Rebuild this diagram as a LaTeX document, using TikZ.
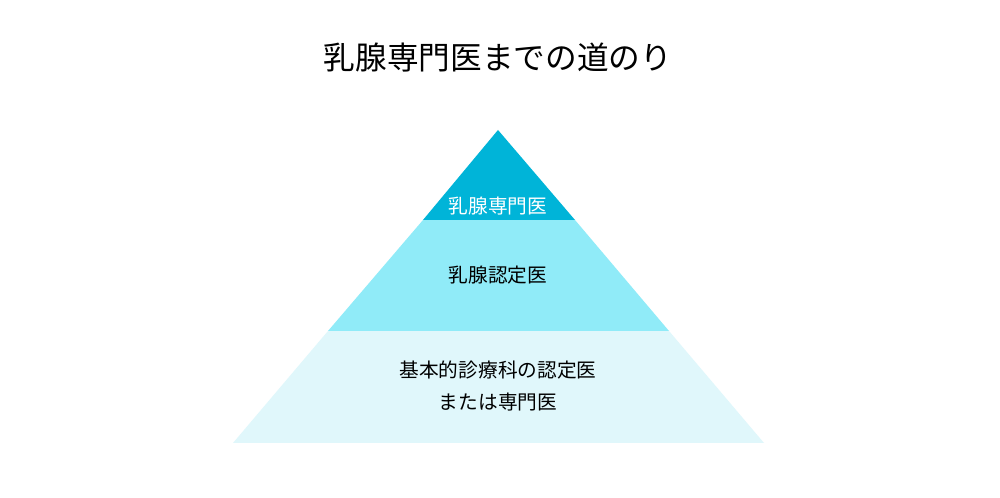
\documentclass[tikz,border=0pt]{standalone}
\usepackage{fontspec}
\usepackage{xcolor}
\usepackage{tikz}
\newfontfamily\jpfont{Noto Sans CJK JP}
\definecolor{tiertop}{RGB}{0, 180, 216}
\definecolor{tiermid}{RGB}{144, 235, 248}
\definecolor{tierlow}{RGB}{224, 247, 251}
\usetikzlibrary{positioning, calc}

\begin{document}
\begin{tikzpicture}[
    x=0.01cm, y=-0.01cm,
    tier/.style={draw=none},
    label/.style={font=\jpfont\fontsize{5.6pt}{9pt}\selectfont, align=center},
]
    \useasboundingbox (0,0) rectangle (1000,498);
    \fill[white] (0,0) rectangle (1000,498);

    % Header
    \node[font=\jpfont\fontsize{9pt}{11pt}\selectfont] (title) at (498, 58) {乳腺専門医までの道のり};

    % Tiers
    \fill[tier, tierlow] (233,443) -- (328,331) -- (669,331) -- (764,443) -- cycle;
    \fill[tier, tiermid] (328,331) -- (423,220) -- (575,220) -- (669,331) -- cycle;
    \fill[tier, tiertop] (423,220) -- (498,130) -- (575,220) -- cycle;

    % Labels
    \node[label, text=white] (top) at (498, 206) {乳腺専門医};
    \node[label] (mid) at (498, 275) {乳腺認定医};
    \node[label] (low) at (498, 386) {基本的診療科の認定医\\または専門医};
\end{tikzpicture}
\end{document}
